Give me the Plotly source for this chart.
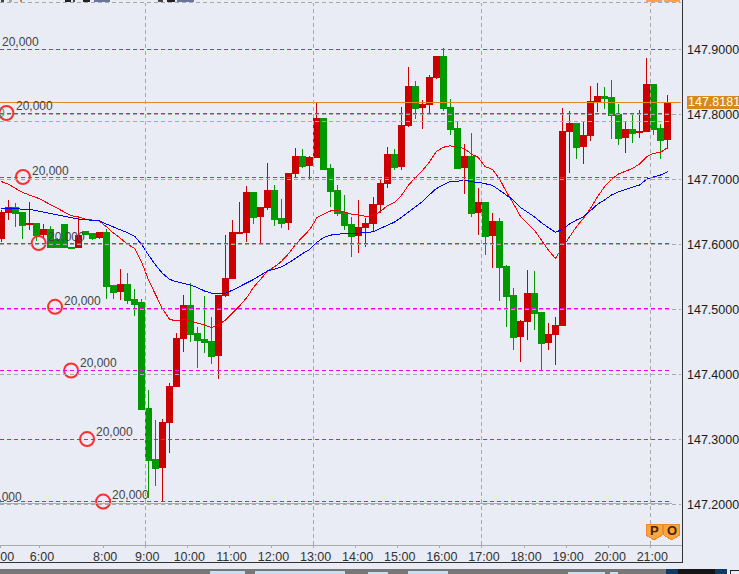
import plotly.graph_objects as go

BASE = 147.0
hour_labels = ["5:00","6:00","8:00","9:00","10:00","11:00","12:00","13:00","14:00","15:00","16:00","17:00","18:00","19:00","20:00","21:00"]
hour_bars = [0,6,15,21,27,33,39,45,51,57,63,69,75,81,87,93]
grid_hours = ["9:00","13:00","17:00","21:00"]

open_frac = [.6096,.6496,.6573,.6496,.6311,.6327,.6158,.6235,.6081,.6311,.5958,.5958,.6204,.6173,.6112,.6189,
 .5373,.5281,.5388,.5158,.5097,.3481,.2696,.2573,.3266,.3820,.4558,.5066,.4635,.4543,.4512,.4296,
 .5219,.5481,.6173,.6189,.6804,.6435,.6573,.6835,.6404,.6342,.7096,.7358,.7219,.7342,.7942,.7173,
 .6835,.6496,.6311,.6142,.6265,.6327,.6620,.6943,.7389,.7204,.7835,.8435,.8112,.8158,.8573,.8896,
 .8112,.7789,.7189,.7358,.6496,.6650,.6142,.6358,.5665,.5219,.4589,.4819,.5250,.4958,.4496,.4620,
 .4758,.7743,.7866,.7512,.7681,.8204,.8281,.8266,.8004,.7650,.7773,.7727,.7743,.8466,.7789,.7619]
close_frac = [.6496,.6573,.6481,.6296,.6327,.6142,.6235,.5948,.5948,.5948,.5942,.6142,.6158,.6096,.6189,.5358,
 .5265,.5388,.5143,.5081,.3466,.2681,.2558,.3266,.3820,.4558,.5066,.4620,.4527,.4496,.4281,.5219,
 .5481,.6189,.6189,.6804,.6419,.6573,.6835,.6389,.6327,.7096,.7358,.7204,.7342,.7942,.7158,.6819,
 .6481,.6296,.6127,.6265,.6327,.6620,.6943,.7389,.7189,.7835,.8435,.8097,.8158,.8573,.8896,.8097,
 .7773,.7173,.7358,.6481,.6650,.6127,.6358,.5650,.5204,.4573,.4819,.5250,.4943,.4481,.4620,.4758,
 .7743,.7866,.7496,.7681,.8204,.8281,.8250,.7989,.7635,.7773,.7712,.7743,.8466,.7773,.7604,.8181]
high_frac = [.6527,.6681,.6635,.6496,.6650,.6327,.6311,.6281,.6096,.6311,.5958,.6435,.6204,.6173,.6189,.6235,
 .5373,.5619,.5558,.5311,.5158,.3758,.3296,.3312,.3866,.4635,.5219,.5404,.4727,.5204,.4881,.5219,
 .6142,.6373,.6650,.6896,.6804,.6573,.7250,.6912,.6696,.7096,.7481,.7466,.7358,.8189,.7942,.7235,
 .6912,.6758,.6419,.6681,.6404,.6727,.7004,.7496,.7466,.8112,.8727,.8512,.8220,.8604,.8896,.9020,
 .8235,.7897,.7542,.7712,.6866,.6650,.6481,.6404,.5681,.5327,.4835,.5604,.5589,.4958,.4789,.4881,
 .8097,.8050,.7866,.7897,.8435,.8481,.8420,.8527,.8158,.7897,.8019,.8066,.8866,.8466,.7850,.8297]
low_frac = [.6035,.6373,.6265,.6081,.6219,.6050,.6096,.5948,.5948,.5948,.5942,.5958,.6158,.6066,.6081,.5158,
 .5158,.5143,.5081,.4897,.3450,.2097,.2281,.2035,.2789,.3820,.4342,.4496,.4097,.4327,.4158,.3927,
 .5189,.5481,.6173,.6035,.6311,.6004,.6527,.6281,.6250,.6219,.7019,.7173,.6989,.7342,.7142,.6573,
 .6435,.6219,.5804,.5866,.5958,.6204,.6481,.6866,.7142,.7142,.7804,.7927,.7773,.8004,.8542,.8050,
 .7681,.7173,.6773,.6419,.6142,.5835,.5635,.5127,.4727,.4373,.4189,.4527,.4681,.4055,.4373,.4143,
 .4750,.7096,.7312,.7235,.7589,.8035,.8081,.7620,.7527,.7404,.7558,.7635,.7743,.7681,.7312,.7465]
red_ma_frac = [.6966,.6927,.6861,.6800,.6758,.6722,.6670,.6615,.6553,.6492,.6439,.6419,.6389,.6373,.6358,.6270,
 .6173,.6092,.6000,.5938,.5732,.5450,.5219,.5004,.4846,.4820,.4846,.4820,.4794,.4758,.4716,.4769,
 .4835,.4938,.5055,.5178,.5343,.5466,.5593,.5655,.5743,.5861,.6004,.6116,.6230,.6409,.6466,.6516,
 .6523,.6486,.6461,.6450,.6430,.6439,.6501,.6589,.6640,.6743,.6901,.7024,.7127,.7261,.7424,.7492,
 .7516,.7492,.7476,.7389,.7338,.7193,.7153,.7015,.6809,.6630,.6435,.6323,.6219,.6066,.5912,.5784,
 .5938,.6112,.6270,.6400,.6553,.6732,.6886,.6999,.7081,.7127,.7169,.7235,.7347,.7400,.7415,.7486]
blue_ma_frac = [.6553,.6553,.6547,.6542,.6538,.6516,.6496,.6476,.6450,.6424,.6404,.6389,.6378,.6369,.6362,.6311,
 .6270,.6224,.6178,.6127,.6000,.5835,.5681,.5553,.5461,.5424,.5399,.5373,.5332,.5281,.5246,.5246,
 .5250,.5296,.5347,.5409,.5461,.5527,.5593,.5619,.5655,.5716,.5793,.5861,.5923,.6030,.6107,.6142,
 .6153,.6169,.6169,.6173,.6178,.6193,.6240,.6296,.6338,.6409,.6492,.6578,.6655,.6758,.6855,.6916,
 .6969,.6969,.6993,.6962,.6953,.6932,.6907,.6835,.6758,.6681,.6569,.6501,.6424,.6332,.6261,.6184,
 .6230,.6311,.6373,.6424,.6516,.6615,.6681,.6758,.6809,.6846,.6876,.6912,.6999,.7039,.7066,.7117]

ladder_prices = [147.2,147.3,147.4,147.5,147.6,147.7,147.8,147.9]
magenta_levels = [147.9,147.8009,147.7031,147.6009,147.5009,147.4060,147.3,147.2043]
cyan_levels = [147.7892,147.2005]
current_price = 147.8181
order_bars = [0.74,3.1,5.34,7.67,9.96,12.24,14.53]
order_prices = [147.8020,147.7035,147.6019,147.5038,147.4058,147.3004,147.2042]
order_label = "20,000"

assert all(len(a)==96 for a in [open_frac,close_frac,high_frac,low_frac,red_ma_frac,blue_ma_frac])
bars = list(range(96))
add = lambda a: [round(BASE+v,4) for v in a]

W, H = 683, 545
BG = "#E9ECF4"
FONT = "Liberation Sans, Arial, sans-serif"
px = lambda x: x/W
py = lambda y: 1-y/H
price_at = lambda y: 147.9-(y-49.3)/650
bar_at = lambda x: (x-1.2)/7.015

fig = go.Figure()
fig.add_trace(go.Candlestick(x=bars, open=add(open_frac), high=add(high_frac), low=add(low_frac), close=add(close_frac),
    increasing=dict(line=dict(color="#CC0000",width=1),fillcolor="#CC0000"),
    decreasing=dict(line=dict(color="#009900",width=1),fillcolor="#009900"),
    hoverinfo="skip", showlegend=False))
fig.add_trace(go.Scatter(x=bars,y=add(red_ma_frac),mode="lines",line=dict(color="#FF0000",width=1),showlegend=False,hoverinfo="skip"))
fig.add_trace(go.Scatter(x=bars,y=add(blue_ma_frac),mode="lines",line=dict(color="#0000FF",width=1),showlegend=False,hoverinfo="skip"))
fig.add_trace(go.Scatter(x=order_bars,y=order_prices,mode="markers",
    marker=dict(symbol="circle-open",size=14,line=dict(color="rgba(255,25,25,0.9)",width=2),color="rgba(255,25,25,0.9)"),
    showlegend=False,hoverinfo="skip"))

shapes = []
DASH = "4px,3px"
for p in ladder_prices:
    shapes.append(dict(type="line",xref="paper",yref="y",x0=0,x1=px(681),y0=p,y1=p,layer="above",line=dict(color="#A8A8A8",width=1,dash=DASH)))
for p in cyan_levels:
    shapes.append(dict(type="line",xref="paper",yref="y",x0=0,x1=px(672),y0=p,y1=p,layer="above",line=dict(color="#22E6E6",width=1,dash=DASH if p>147.5 else None)))
for p in magenta_levels:
    shapes.append(dict(type="line",xref="paper",yref="y",x0=0,x1=px(672),y0=p,y1=p,layer="above",line=dict(color="#F000F0",width=1,dash=DASH)))
shapes.append(dict(type="line",xref="paper",yref="y",x0=0,x1=px(681),y0=current_price,y1=current_price,layer="above",line=dict(color="#E08A1E",width=1)))
for lab,b in zip(hour_labels,hour_bars):
    if lab in grid_hours:
        shapes.append(dict(type="line",xref="x",yref="paper",x0=b-0.47,x1=b-0.47,y0=0,y1=py(3),layer="above",line=dict(color="#A8A8A8",width=1,dash=DASH)))
# top dashed rule and frame
shapes.append(dict(type="line",xref="paper",yref="paper",x0=0,x1=px(681),y0=py(2.5),y1=py(2.5),layer="above",line=dict(color="#A8A8A8",width=1,dash=DASH)))
shapes.append(dict(type="line",xref="paper",yref="paper",x0=px(682.5),x1=px(682.5),y0=py(562.5),y1=1,layer="above",line=dict(color="#333333",width=1.5)))
shapes.append(dict(type="line",xref="paper",yref="paper",x0=0,x1=px(682.5),y0=py(562.5),y1=py(562.5),layer="above",line=dict(color="#333333",width=1.5)))
# price flag
shapes.append(dict(type="rect",xref="paper",yref="paper",x0=px(686.5),x1=px(740),y0=py(109),y1=py(96),layer="above",fillcolor="#D68A1E",line=dict(width=0)))
# bottom window strip
for x0,x1,y0,col in [(0,666,568.5,"#777777"),(666,678,568.5,"#0F3A66"),(678,715,568.5,"#151515"),(715,727,568.5,"#0F3A66")]:
    shapes.append(dict(type="rect",xref="paper",yref="paper",x0=px(x0),x1=px(x1),y0=py(575),y1=py(y0),layer="above",fillcolor=col,line=dict(width=0)))
for x0,x1,y0 in [(210,245,571),(255,345,571),(368,388,571.5),(408,448,571),(568,605,571.5),(610,618,572)]:
    shapes.append(dict(type="rect",xref="paper",yref="paper",x0=px(x0),x1=px(x1),y0=py(575),y1=py(y0),layer="above",fillcolor="#C8DFF2",line=dict(width=0)))
shapes.append(dict(type="rect",xref="paper",yref="paper",x0=px(730),x1=px(741),y0=py(576),y1=py(570.5),layer="above",fillcolor=BG,line=dict(color="#222222",width=1)))
# clipped text/flags on the top edge
for x0,x1,col in [(1,4,"#444444"),(9,12,"#AAAAAA"),(20,22,"#C08A40"),(65,71,"#222222"),(73,75,"#444444"),(83,90,"#222222"),(94,110,"#667799"),(158,163,"#444444"),(167,175,"#222222"),(177,194,"#667799"),(646,662,"#FFA050"),(664,680,"#FFA050")]:
    shapes.append(dict(type="rect",xref="paper",yref="paper",x0=px(x0),x1=px(x1),y0=py(1.5),y1=1,layer="above",fillcolor=col,line=dict(width=0)))
# P / O badges
badges = [("P",654),("O",671.7)]
for t,x in badges:
    shapes.append(dict(type="path",xref="x",yref="y",xsizemode="pixel",ysizemode="pixel",xanchor=bar_at(x),yanchor=price_at(530),
        path="M -8 6 L 8 6 L 8 -5 L 0 -10 L -8 -5 Z",layer="above",fillcolor="#FAA63F",line=dict(color="#F08A2A",width=1)))

ann = []
def label(x,y,text="20,000",anchor="left",color="#444444",size=12,bold=False):
    ann.append(dict(xref="x",yref="y",x=bar_at(x),y=price_at(y),text=("<b>%s</b>"%text if bold else text),showarrow=False,xanchor=anchor,yanchor="middle",
        font=dict(family=FONT,size=size,color=color)))
for x,y in [(0,42),(14,106),(30,170.5),(46,236.5),(62,301),(78,363),(94,432),(110,494.5)]:
    label(x,y)
label(24,497,anchor="right")
label(7,113,text="0",anchor="right",color="#777777")
for t,x in badges:
    label(x,530,text=t,anchor="center",color="#4A2200",size=13,bold=True)
ann.append(dict(xref="paper",yref="paper",x=px(686),y=py(102.5),text=f"{current_price:.4f}",showarrow=False,xanchor="left",yanchor="middle",
    font=dict(family=FONT,size=12.5,color="white")))

fig.update_layout(width=739,height=574,margin=dict(l=0,r=56,t=0,b=29,pad=0),autosize=False,
    paper_bgcolor=BG,plot_bgcolor=BG,showlegend=False,boxgap=1/7,boxgroupgap=0,boxmode="overlay",
    shapes=shapes,annotations=ann,hovermode=False,dragmode=False,
    font=dict(family=FONT,size=12,color="#444444"),
    xaxis=dict(type="linear",automargin=False,range=[bar_at(0),bar_at(W)],rangeslider=dict(visible=False),showgrid=False,zeroline=False,
        tickmode="array",tickvals=[max(b-0.47,bar_at(0.05)) for b in hour_bars],ticktext=hour_labels,
        ticks="outside",ticklen=2,tickcolor="#AAAAAA",showline=True,linecolor="#AAAAAA",linewidth=1,
        ticklabelshift=2,ticklabelstandoff=-2,ticklabeloverflow="allow",tickfont=dict(family=FONT,size=12.5,color="#333333")),
    yaxis=dict(side="right",automargin=False,range=[price_at(H),price_at(0)],showgrid=False,zeroline=False,tickmode="array",
        tickvals=ladder_prices,ticktext=[f"{p:.4f}" for p in ladder_prices],ticks="",showline=False,ticklabelstandoff=3,
        ticklabeloverflow="allow",tickfont=dict(family=FONT,size=12.5,color="#1A1A1A")))

crisp = """
document.querySelectorAll('.boxlayer path, .shapelayer path, .scatterlayer .js-line').forEach(function(p){p.style.shapeRendering='crispEdges';});
"""
fig.write_html("out.html",config=dict(displayModeBar=False,staticPlot=True),
    post_script="document.body.style.margin='0';document.body.style.overflow='hidden';document.body.style.background='%s';"%BG+crisp)
